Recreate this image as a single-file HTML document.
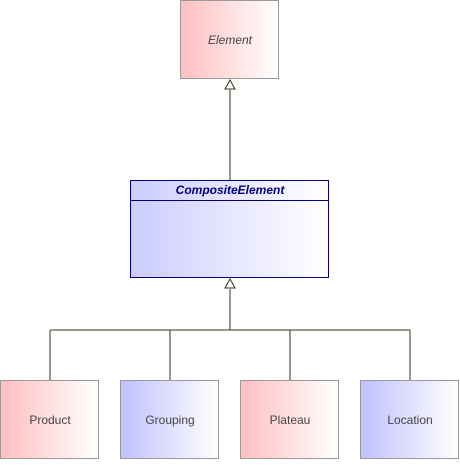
<!DOCTYPE html>
<html><head><style>body{margin:0;background:#fff}</style></head><body>
<svg width="460" height="460" xmlns="http://www.w3.org/2000/svg" font-family="Liberation Sans, sans-serif" font-size="12">
<defs>
<linearGradient id="r" x1="0" x2="1"><stop offset="0" stop-color="#ffbfbf"/><stop offset="1" stop-color="#fff"/></linearGradient>
<linearGradient id="b" x1="0" x2="1"><stop offset="0" stop-color="#c0c0ff"/><stop offset="1" stop-color="#fff"/></linearGradient>
<linearGradient id="c" x1="0" x2="1"><stop offset="0" stop-color="#ccccff"/><stop offset="1" stop-color="#fff"/></linearGradient>
</defs>
<g stroke="#3a2f1a" fill="none">
<line x1="230" y1="90" x2="230" y2="180"/>
<line x1="230" y1="289" x2="230" y2="330"/>
<line x1="50" y1="330" x2="410" y2="330"/>
<line x1="50" y1="330" x2="50" y2="380"/>
<line x1="170" y1="330" x2="170" y2="380"/>
<line x1="290" y1="330" x2="290" y2="380"/>
<line x1="410" y1="330" x2="410" y2="380"/>
<polygon points="230,80 225,89 235,89" fill="#fff"/>
<polygon points="230,279 225,288 235,288" fill="#fff"/>
</g>
<rect x="180.5" y="0.5" width="98" height="78" fill="url(#r)" stroke="#999"/>
<text x="230" y="44" text-anchor="middle" font-style="italic" fill="#444">Element</text>
<rect x="130.5" y="180.5" width="198" height="97" fill="url(#c)" stroke="#000080"/>
<line x1="131" y1="200.5" x2="328" y2="200.5" stroke="#000080"/>
<text x="230" y="194" text-anchor="middle" font-style="italic" font-weight="bold" fill="#000080">CompositeElement</text>
<rect x="0.5" y="380.5" width="98" height="78" fill="url(#r)" stroke="#999"/>
<text x="50" y="424" text-anchor="middle" fill="#444">Product</text>
<rect x="120.5" y="380.5" width="98" height="78" fill="url(#b)" stroke="#999"/>
<text x="170" y="424" text-anchor="middle" fill="#444">Grouping</text>
<rect x="240.5" y="380.5" width="98" height="78" fill="url(#r)" stroke="#999"/>
<text x="290" y="424" text-anchor="middle" fill="#444">Plateau</text>
<rect x="360.5" y="380.5" width="98" height="78" fill="url(#b)" stroke="#999"/>
<text x="410" y="424" text-anchor="middle" fill="#444">Location</text>
</svg>
</body></html>
